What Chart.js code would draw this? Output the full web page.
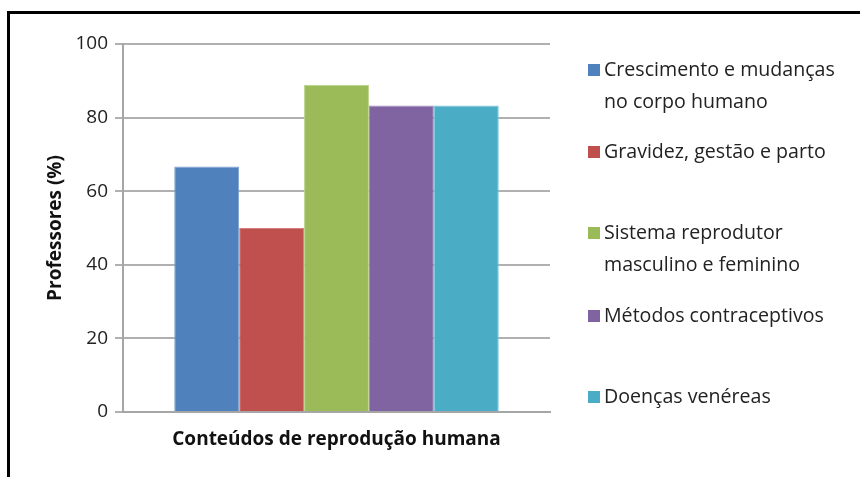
<!DOCTYPE html>
<html>
<head>
<meta charset="utf-8">
<script src="https://cdn.jsdelivr.net/npm/chart.js@4.4.1/dist/chart.umd.min.js"></script>
<style>
  html, body { margin: 0; padding: 0; background: #fff; }
  #wrap { position: relative; width: 860px; height: 477px; overflow: hidden; }
  #frame { position: absolute; left: 7px; top: 11px; width: 900px; height: 600px;
           border-top: 3px solid #000; border-left: 3px solid #000; box-sizing: border-box; }
  canvas { position: absolute; left: 0; top: 0; }
</style>
</head>
<body>
<div id="wrap">
  <div id="frame"></div>
  <canvas id="c" width="860" height="477"></canvas>
</div>
<script>
// ── Dados ─────────────────────────────────────────────
const categorias = ['Conteúdos de reprodução humana'];
const series = [
    ['Crescimento e mudanças', 'no corpo humano'],
    ['Gravidez, gestão e parto'],
    ['Sistema reprodutor', 'masculino e feminino'],
    ['Métodos contraceptivos'],
    ['Doenças venéreas']
];
const valores = [66.7, 50, 88.9, 83.3, 83.3];
const cores = ['#4F81BD', '#C0504D', '#9BBB59', '#8064A2', '#4BACC6'];
const bordas = ['#7FA3D0', '#D5807D', '#B9D28A', '#A08CBD', '#7CC6D9'];
const yTicks = [0, 20, 40, 60, 80, 100];

const FONTE = '"Open Sans", Lato, sans-serif';

// posições verticais (primeira linha) das entradas da legenda
const _legendY = [70, 152, 233, 316, 397];

// legenda desenhada à mão, para imitar o espaçamento irregular do Excel
const legendaPlugin = {
    id: 'legendaExcel',
    afterDraw(chart) {
        const ctx = chart.ctx;
        ctx.save();
        ctx.font = '19.6px ' + FONTE;
        ctx.textBaseline = 'middle';
        ctx.textAlign = 'left';
        chart.data.datasets.forEach((ds, i) => {
            const y0 = _legendY[i];
            ctx.fillStyle = ds.backgroundColor;
            ctx.fillRect(588, y0 - 6, 12, 12);
            ctx.fillStyle = '#222';
            ds.linhas.forEach((t, k) => ctx.fillText(t, 604, y0 + k * 32));
        });
        ctx.restore();
    }
};

new Chart(document.getElementById('c').getContext('2d'), {
    type: 'bar',
    data: {
        labels: categorias,
        datasets: series.map((s, i) => ({
            label: s.join(' '),
            linhas: s,
            data: [valores[i]],
            backgroundColor: cores[i],
            borderColor: bordas[i],
            borderWidth: 1,
            barPercentage: 1,
            categoryPercentage: 0.76
        }))
    },
    options: {
        responsive: false,
        animation: false,
        devicePixelRatio: 1,
        layout: { padding: { left: 0, top: 44, right: 310, bottom: 0 } },
        scales: {
            x: {
                grid: { display: false },
                border: { color: '#a6a6a6', width: 2 },
                ticks: { color: '#111', font: { family: FONTE, size: 19, weight: 'bold' }, padding: 8 },
                afterFit: s => { s.height = 65; }
            },
            y: {
                min: 0,
                max: 100,
                afterBuildTicks: s => { s.ticks = yTicks.map(v => ({ value: v })); },
                grid: { color: '#b0b0b0', lineWidth: 2, tickLength: 8 },
                border: { color: '#a6a6a6', width: 2 },
                ticks: { color: '#222', font: { family: FONTE, size: 19 }, padding: 7 },
                title: {
                    display: true,
                    text: 'Professores (%)',
                    color: '#111',
                    font: { family: FONTE, size: 19, weight: 'bold' },
                    padding: { top: 44, bottom: 0 }
                },
                afterFit: s => { s.width = 123; }
            }
        },
        plugins: {
            legend: { display: false },
            tooltip: { enabled: false }
        }
    },
    plugins: [legendaPlugin]
});
</script>
</body>
</html>
